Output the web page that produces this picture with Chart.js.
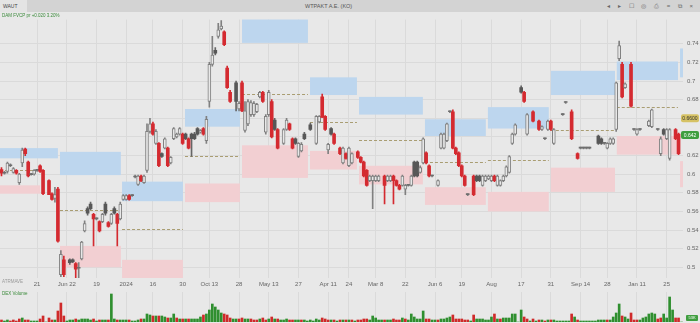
<!DOCTYPE html>
<html>
<head>
<meta charset="utf-8">
<script src="https://cdn.jsdelivr.net/npm/chart.js@4.4.1/dist/chart.umd.min.js"></script>
<style>
  body { margin: 0; background: #e8e8e8; font-family: "Liberation Sans", Arial, sans-serif; }
  #wrap { position: relative; width: 700px; height: 323px; overflow: hidden; background: #e8e8e8; }
  #bar { position: absolute; left: 0; top: 0; width: 700px; height: 12px; background: #d3d3d3; }
  #tab { position: absolute; left: 0; top: 0; width: 27px; height: 12px; background: #e4e4e4; font-size: 5px; color: #444; line-height: 12px; padding-left: 3px; box-sizing: border-box; }
  #title { position: absolute; left: 305px; top: 0; font-size: 5.5px; color: #555; line-height: 12px; }
  #icons { position: absolute; right: 4px; top: 0; font-size: 6px; color: #666; line-height: 12px; letter-spacing: 3px; }
  .note { position: absolute; font-size: 4.5px; white-space: nowrap; }
  #price { position: absolute; left: 0; top: 12px; }
  #vol { position: absolute; left: 0; top: 292px; }
  #volTag { position: absolute; left: 686px; top: 315px; width: 12px; height: 6px; background: #3f9e3f; color: #fff; font-size: 4px; line-height: 6px; text-align: center; border-radius: 1px; }
</style>
</head>
<body>
<div id="wrap">
  <div id="bar">
    <div id="tab">WAUT</div>
    <div id="title">WTPAKT A.E. (KO)</div>
    <div id="icons">◂ ▸ ☐ ◎ ⎙ = ⧉ ×</div>
  </div>
  <canvas id="price" width="700" height="280"></canvas>
  <canvas id="vol" width="700" height="31"></canvas>
  <div class="note" style="left:2px; top:13px; color:#3a8a3a;">DAM FVCP pr +0.020 3.20%</div>
  <div class="note" style="left:2px; top:279px; color:#9a9a9a;">ATRMAVE</div>
  <div class="note" style="left:2px; top:291px; color:#3a8a3a;">DEX Volume</div>
  <div id="volTag">53K</div>
</div>
<script>
// daily candles, index 0..229 (null = no trade)
var opens = [
  .605,.601,.603,.610,.602,.604,.591,.612,.627,.613,
  .5995,.600,.604,.609,.604,null,.593,.579,.574,.584,
  .492,.508,null,.508,.508,.504,.499,.509,.539,.563,
  .568,.557,.552,.549,.549,.568,.548,.547,.563,.557,
  .552,.573,.573,.577,.577,.597,.589,.598,.591,.604,
  .646,.654,.633,.633,.622,.628,.628,.612,.638,.640,
  .643,.643,.643,.638,.643,.643,.649,.645,.649,.636,
  .678,.718,.733,.748,.756,.753,.714,.688,null,.698,
  .670,.698,.647,.654,.664,.664,.667,.683,.688,.645,
  .664,.678,.658,.648,null,.633,.648,.654,.638,.638,
  .619,.625,.643,null,.653,null,.633,.656,.683,.662,
  .626,.649,.643,null,.628,.612,.622,.609,.612,null,
  .624,.618,.613,.604,.593,.593,.593,.593,null,.598,
  .593,.593,.598,.593,.588,.588,.584,.588,.588,.613,
  .613,.602,.612,.623,.609,.598,null,.588,.628,.628,
  .636,.667,.667,.628,.623,.609,.598,.578,null,.598,
  .598,.598,.588,.593,.595,.593,.598,.588,.588,.593,
  .598,.602,.633,.643,null,.693,.688,.643,null,.667,
  null,.657,.648,.638,.648,.657,.633,null,null,.664,
  .677,null,.667,null,.622,.628,.628,.628,.628,null,
  null,.641,.638,.633,.628,.633,.633,.648,.724,.718,
  .693,null,.718,.648,.643,.648,null,null,.652,.651,
  null,.648,.622,.648,.638,.617,null,.648,.643,null
];
var highs = [
  .607,.603,.613,.611,.607,.605,.601,.628,.628,.614,
  .601,.605,.605,.610,.605,null,.594,.580,.586,.586,
  .518,.512,null,.509,.509,.505,.505,.528,.550,.565,
  .570,.558,.553,.550,.558,.570,.549,.558,.565,.558,
  .570,.578,.578,.578,.578,.599,.599,.599,.599,.654,
  .660,.656,.648,.634,.623,.639,.629,.619,.650,.644,
  .650,.644,.644,.639,.644,.645,.650,.648,.650,.662,
  .720,.748,.736,.762,.765,.754,.716,.690,null,.700,
  .678,.700,.678,.680,.679,.678,.676,.689,.689,.664,
  .690,.680,.660,.649,null,.649,.660,.655,.639,.639,
  .634,.634,.645,null,.655,null,.663,.663,.686,.663,
  .633,.650,.644,null,.629,.629,.623,.629,.623,null,
  .625,.619,.614,.605,.599,.599,.599,.599,null,.599,
  .599,.599,.599,.594,.589,.599,.589,.589,.599,.614,
  .614,.609,.639,.624,.610,.599,null,.594,.644,.644,
  .655,.668,.669,.629,.624,.610,.599,.579,null,.599,
  .599,.599,.599,.599,.599,.599,.599,.599,.594,.599,
  .609,.620,.644,.654,null,.695,.689,.665,null,.668,
  null,.658,.652,.639,.658,.658,.649,null,null,.665,
  .678,null,.669,null,.623,.629,.629,.629,.629,null,
  null,.642,.639,.634,.634,.639,.639,.699,.743,.720,
  .698,null,.720,.649,.649,.649,null,null,.658,.670,
  null,.649,.640,.649,.649,.649,null,.649,.644,null
];
var lows = [
  .598,.600,.601,.608,.601,.600,.589,.608,.620,.597,
  .599,.599,.603,.602,.578,null,.578,.572,.570,.527,
  .490,.490,null,.503,.505,.488,.487,.508,.538,.556,
  .562,.523,.551,.538,.548,.556,.543,.546,.557,.523,
  .551,.572,.572,.572,.576,.596,.588,.592,.590,.602,
  .644,.642,.632,.608,.618,.627,.608,.611,.637,.639,
  .642,.632,.637,.627,.619,.637,.642,.644,.642,.633,
  .672,.716,.728,.746,.755,.738,.692,.677,null,.668,
  .668,.667,.645,.652,.662,.662,.666,.682,.677,.643,
  .662,.639,.647,.627,null,.632,.647,.647,.627,.632,
  .618,.624,.637,null,.647,null,.632,.655,.661,.647,
  .622,.642,.632,null,.621,.611,.616,.608,.611,null,
  .617,.612,.597,.587,.592,.563,.592,.592,null,.568,
  .592,.592,.568,.587,.583,.587,.578,.587,.587,.597,
  .597,.601,.611,.611,.597,.597,null,.587,.627,.627,
  .635,.666,.627,.621,.608,.597,.587,.577,null,.577,
  .592,.592,.587,.592,.594,.592,.592,.587,.587,.592,
  .597,.601,.632,.642,null,.687,.677,.642,null,.656,
  null,.647,.647,.637,.647,.647,.632,null,null,.663,
  .676,null,.637,null,.616,.627,.627,.627,.627,null,
  null,.632,.632,.632,.627,.632,.632,.646,.722,.682,
  .692,null,.672,.647,.642,.647,null,null,.651,.650,
  null,.647,.620,.642,.637,.615,null,.637,.621,null
];
var closes = [
  .601,.602,.612,.609,.606,.601,.600,.626,.622,.598,
  .6005,.604,.6045,.603,.579,null,.578,.573,.578,.528,
  .514,.492,null,.505,.506,.498,.500,.527,.547,.558,
  .563,.552,.5525,.539,.557,.558,.544,.557,.558,.547,
  .568,.577,.577,.573,.5775,.598,.598,.593,.598,.646,
  .654,.643,.646,.609,.619,.638,.609,.618,.649,.643,
  .649,.633,.638,.628,.638,.638,.643,.647,.643,.659,
  .718,.728,.730,.755,.759,.739,.693,.678,null,.678,
  .676,.668,.668,.678,.677,.676,.675,.688,.678,.662,
  .688,.640,.648,.628,null,.648,.658,.648,.628,.633,
  .633,.632,.638,null,.648,null,.662,.662,.661,.648,
  .632,.643,.633,null,.622,.628,.617,.628,.622,null,
  .618,.613,.598,.588,.598,.598,.598,.598,null,.588,
  .598,.598,.593,.588,.584,.598,.588,.5885,.598,.598,
  .598,.607,.638,.612,.598,.5985,null,.593,.643,.643,
  .654,.6675,.628,.622,.609,.598,.588,.5785,null,.578,
  .593,.593,.598,.598,.598,.598,.593,.598,.593,.598,
  .608,.619,.643,.653,null,.688,.678,.664,null,.657,
  null,.648,.651,.6385,.657,.648,.648,null,null,.6645,
  .6775,null,.638,null,.617,.6285,.6285,.6285,.6285,null,
  null,.633,.633,.6335,.633,.638,.638,.698,.738,.683,
  .697,null,.673,.6485,.648,.6485,null,null,.657,.669,
  null,.6485,.638,.643,.648,.648,null,.638,.622,null
];
var volumes = [
  2,1,2,1,2,1,3,4,2,2, 1,1,1,3,6,0,4,2,2,11,
  19,6,1,2,2,3,2,3,3,3, 2,3,1,2,2,2,2,28,3,2,
  2,2,2,2,1,1,2,3,3,8, 7,6,6,6,6,5,4,4,8,4,
  3,3,3,3,3,3,3,5,7,8, 12,18,15,12,9,8,7,4,3,3,
  3,4,3,3,3,2,2,3,4,2, 3,5,3,3,2,2,3,2,2,2,
  2,2,2,1,2,1,3,2,4,3, 2,2,2,1,2,2,2,2,2,1,
  2,2,3,3,2,6,4,2,2,2, 2,2,3,2,2,4,3,2,8,5,
  3,3,11,3,3,2,2,2,3,3, 4,5,7,3,3,3,2,2,1,7,
  3,3,3,2,2,5,8,3,3,4, 4,4,8,8,0,12,5,3,1,3,
  1,2,2,1,2,2,2,1,1,1, 1,1,8,5,2,1,1,1,1,1,
  1,2,2,2,2,2,5,9,18,6, 5,3,9,2,2,2,4,5,8,9,
  8,3,4,8,4,25,12,4,4,0
];

var tickIdx = [12, 22, 32, 42, 51, 61, 70, 80, 90, 100, 110, 117, 126, 136, 146, 155, 165, 175, 185, 195, 204, 214, 224];
var tickLabels = ['21', 'Jun 22', '19', '2024', '16', '30', 'Oct 13', '28', 'May 13', '27', 'Apr 11', '24', 'Mar 8', '22', 'Jun 6', '19', 'Aug', '17', '31', 'Sep 14', '28', 'Jan 11', '25'];
var yTicks = [0.5, 0.52, 0.54, 0.56, 0.58, 0.6, 0.62, 0.64, 0.66, 0.68, 0.7, 0.72, 0.74];

// monthly zones (candle index edges) with buy / sell bands and a reference level
var zoneStart = [-0.5, 19.7, 40.6, 61.8, 81.0, 103.9, 120.4, 142.6, 163.8, 185.0, 207.2, 228.5];
var zoneEnd   = [19.0, 40.2, 61.1, 80.3, 103.2, 119.7, 141.9, 163.1, 184.3, 206.6, 227.8, 229.8];
var pinkEnd   = [13.0, 40.2, 61.1, 80.3, 103.2, 119.7, 141.9, 163.1, 184.3, 206.6, 227.8, 229.8];
var blueHi = [.628, .624, .592, .670, .767, .704, .683, .659, .672, .711, .721, .735];
var blueLo = [.617, .599, .571, .651, .741, .685, .664, .641, .649, .685, .701, .704];
var pinkHi = [.588, .523, .508, .590, .631, .625, .609, .586, .581, .607, .641, .614];
var pinkLo = [.579, .500, .488, .570, .596, .605, .589, .567, .560, .581, .621, .586];
var midLevel = [.604, .562, .541, .620, .686, .656, .637, .613, .615, .647, .672, null];

var refPrice = 0.660;
var lastPrice = 0.642;

var BG = '#e8e8e8';
var GRID = '#dadada';

function prevClose(i) {
    var p = i - 1;
    while (p >= 0 && closes[p] == null) p--;
    return p >= 0 ? closes[p] : opens[i];
}

function kind(i) {
    if (Math.abs(closes[i] - opens[i]) < 0.0015) return 'flat';
    if (closes[i] >= opens[i]) return 'up';
    return closes[i] < prevClose(i) ? 'down' : 'dark';
}

var bodyData = [], wickData = [], bodyFill = [], bodyLine = [], bodyBorder = [], wickColor = [];
for (var i = 0; i < opens.length; i++) {
    if (opens[i] == null) continue;
    var k = kind(i);
    bodyData.push({ x: i, y: [opens[i], closes[i]] });
    wickData.push({ x: i, y: [lows[i], highs[i]] });
    if (k === 'up') {
        bodyFill.push(BG); bodyLine.push('#808080'); bodyBorder.push(1); wickColor.push('#808080');
    } else if (k === 'flat') {
        bodyFill.push('#6e6e6e'); bodyLine.push('#6e6e6e'); bodyBorder.push(0); wickColor.push('#808080');
    } else if (k === 'dark') {
        bodyFill.push('#575757'); bodyLine.push('#575757'); bodyBorder.push(0); wickColor.push('#666666');
    } else {
        bodyFill.push('#d42a30'); bodyLine.push('#d42a30'); bodyBorder.push(0); wickColor.push('#d42a30');
    }
}

var volData = [], volColor = [];
for (var j = 0; j < volumes.length; j++) {
    volData.push({ x: j, y: volumes[j] });
    var down = opens[j] != null && closes[j] < prevClose(j);
    volColor.push(down ? '#cf2a2a' : '#2f8f2f');
}

var zonesPlugin = {
    id: 'zones',
    beforeDatasetsDraw: function(chart) {
        var c = chart.ctx, xs = chart.scales.x, ys = chart.scales.y, a = chart.chartArea;
        c.save();
        c.beginPath();
        c.rect(a.left, a.top, a.right - a.left, a.bottom - a.top);
        c.clip();
        for (var z = 0; z < zoneStart.length; z++) {
            var x0 = xs.getPixelForValue(zoneStart[z]);
            var x1 = xs.getPixelForValue(zoneEnd[z]);
            var xp = xs.getPixelForValue(pinkEnd[z]);
            c.fillStyle = '#bdd6ee';
            c.fillRect(x0, ys.getPixelForValue(blueHi[z]), x1 - x0, ys.getPixelForValue(blueLo[z]) - ys.getPixelForValue(blueHi[z]));
            c.fillStyle = '#f2cfd2';
            c.fillRect(x0, ys.getPixelForValue(pinkHi[z]), xp - x0, ys.getPixelForValue(pinkLo[z]) - ys.getPixelForValue(pinkHi[z]));
            if (midLevel[z] != null) {
                var ym = Math.round(ys.getPixelForValue(midLevel[z])) + 0.5;
                c.strokeStyle = '#a99d72';
                c.lineWidth = 1;
                c.setLineDash([3, 2]);
                c.beginPath();
                c.moveTo(x0, ym);
                c.lineTo(xp, ym);
                c.stroke();
            }
        }
        c.restore();
    },
    afterDraw: function(chart) {
        var c = chart.ctx, ys = chart.scales.y;
        var tags = [[refPrice, '#d6c264', '#333', '0.6600'], [lastPrice, '#3f9e3f', '#fff', '0.642']];
        c.save();
        c.font = '5px "Liberation Sans", Arial';
        c.textAlign = 'center';
        c.textBaseline = 'middle';
        tags.forEach(function(t) {
            var y = ys.getPixelForValue(t[0]);
            c.fillStyle = t[1];
            c.beginPath();
            c.roundRect(681, y - 4, 18, 8, 2);
            c.fill();
            c.fillStyle = t[2];
            c.fillText(t[3], 690, y + 0.5);
        });
        c.restore();
    }
};

var xTickSetup = function(scale) {
    scale.ticks = tickIdx.map(function(v) { return { value: v }; });
};

new Chart(document.getElementById('price').getContext('2d'), {
    type: 'bar',
    data: {
        datasets: [{
            data: bodyData,
            backgroundColor: bodyFill,
            borderColor: bodyLine,
            borderWidth: bodyBorder,
            borderSkipped: false,
            barThickness: 3,
            minBarLength: 1,
            grouped: false,
            order: 1
        }, {
            data: wickData,
            backgroundColor: wickColor,
            barThickness: 1,
            grouped: false,
            order: 2
        }]
    },
    options: {
        responsive: false,
        animation: false,
        layout: { padding: { top: 1, left: 0, right: 0, bottom: 0 } },
        plugins: { legend: { display: false }, tooltip: { enabled: false } },
        scales: {
            x: {
                type: 'linear',
                offset: false,
                min: -0.5,
                max: 229.5,
                afterBuildTicks: xTickSetup,
                afterFit: function(s) { s.height = 14; },
                ticks: {
                    autoSkip: false,
                    maxRotation: 0,
                    padding: 3,
                    color: '#666',
                    font: { size: 6, family: '"Liberation Sans", Arial' },
                    callback: function(v) { var k = tickIdx.indexOf(v); return k >= 0 ? tickLabels[k] : ''; }
                },
                grid: { color: GRID, drawTicks: false, offset: false },
                border: { display: false }
            },
            y: {
                position: 'right',
                min: 0.4885,
                max: 0.766,
                afterBuildTicks: function(s) { s.ticks = yTicks.map(function(v) { return { value: v }; }); },
                afterFit: function(s) { s.width = 17; },
                ticks: {
                    padding: 4,
                    color: '#666',
                    font: { size: 6, family: '"Liberation Sans", Arial' },
                    callback: function(v) { return String(Math.round(v * 100) / 100); }
                },
                grid: { color: GRID, drawTicks: false },
                border: { display: false }
            }
        }
    },
    plugins: [zonesPlugin]
});

new Chart(document.getElementById('vol').getContext('2d'), {
    type: 'bar',
    data: {
        datasets: [{
            data: volData,
            backgroundColor: volColor,
            barThickness: 2,
            grouped: false
        }]
    },
    options: {
        responsive: false,
        animation: false,
        layout: { padding: { top: 0, left: 0, right: 17, bottom: 1 } },
        plugins: { legend: { display: false }, tooltip: { enabled: false } },
        scales: {
            x: {
                type: 'linear',
                offset: false,
                min: -0.5,
                max: 229.5,
                afterBuildTicks: xTickSetup,
                afterFit: function(s) { s.height = 0; },
                ticks: { display: false },
                grid: { color: GRID, drawTicks: false, offset: false },
                border: { display: false }
            },
            y: {
                display: false,
                min: 0,
                max: 30
            }
        }
    }
});
</script>
</body>
</html>
